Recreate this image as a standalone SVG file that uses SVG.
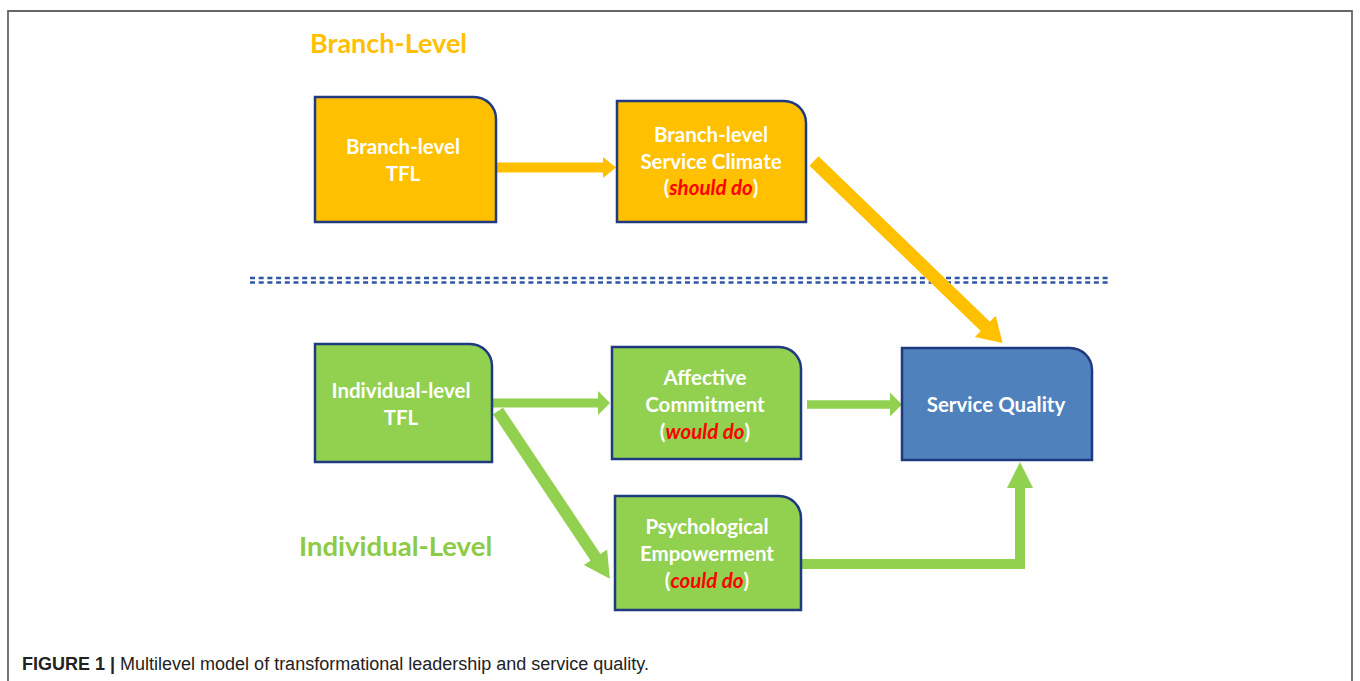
<svg xmlns="http://www.w3.org/2000/svg" width="1360" height="681" viewBox="0 0 1360 681">
<style>
.node{stroke:#1f3a80;stroke-width:2.5}
.y{fill:#FFC000}
.g{fill:#92D050}
.b{fill:#4F81BD}
.t{font-family:Lato,"Open Sans",sans-serif;font-weight:700;font-size:20.5px;fill:#fff;text-anchor:middle}
.r{fill:#FF0000;font-style:italic}
.cy{stroke:#FFC000;fill:none}
.cg{stroke:#92D050;fill:none}
</style>
<defs>
<marker id="ag" markerUnits="userSpaceOnUse" markerWidth="16" markerHeight="24" refX="1" refY="12" orient="auto" viewBox="0 0 16 24">
<path d="M0,0 L12,12 L0,24 Z" fill="#92D050"/>
</marker>
<marker id="ag2" markerUnits="userSpaceOnUse" markerWidth="30" markerHeight="30" refX="1" refY="15" orient="auto" viewBox="0 0 30 30">
<path d="M0,1 L26,15 L0,29 Z" fill="#92D050"/>
</marker>
<marker id="ay2" markerUnits="userSpaceOnUse" markerWidth="30" markerHeight="34" refX="1" refY="17" orient="auto" viewBox="0 0 30 34">
<path d="M0,2 L24,17 L0,32 Z" fill="#FFC000"/>
</marker>
</defs>
<rect width="1360" height="681" fill="#fff"/>
<path d="M8,690 V11 H1352 V690" fill="none" stroke="#666" stroke-width="1.8"/>
<text x="310" y="53" font-family="Lato,'Open Sans',sans-serif" font-weight="700" font-size="27" fill="#FFC000">Branch-Level</text>
<text x="299" y="556" font-family="Lato,'Open Sans',sans-serif" font-weight="700" font-size="27.5" fill="#8DCB45">Individual-Level</text>
<g id="separator" stroke="#2F55A4" stroke-width="2.4" stroke-dasharray="5 3.7">
<line x1="250" y1="278" x2="1110" y2="278"/>
<line x1="250" y1="282.5" x2="1110" y2="282.5"/>
</g>
<g id="connectors">
<line class="cy" x1="497" y1="167.5" x2="603" y2="167.5" stroke-width="10"/>
<path d="M603,157 L616,167.5 L603,178 Z" fill="#FFC000"/>
<line class="cy" x1="814" y1="161" x2="986" y2="327" stroke-width="13" marker-end="url(#ay2)"/>
<line class="cg" x1="492" y1="403" x2="599" y2="403" stroke-width="9" marker-end="url(#ag)"/>
<line class="cg" x1="807" y1="404.5" x2="891" y2="404.5" stroke-width="8.5" marker-end="url(#ag)"/>
<line class="cg" x1="498" y1="411" x2="596" y2="558" stroke-width="12" marker-end="url(#ag2)"/>
<path class="cg" d="M801,564 H1020 V487" stroke-width="10" stroke-linejoin="miter"/>
<path d="M1007,488 L1020,462 L1033,488 Z" fill="#92D050"/>
</g>
<g id="branch-tfl">
<path class="node y" d="M315,97 H474 A22,22 0 0 1 496,119 V222 H315 Z"/>
<text class="t" x="403" y="154">Branch-level</text>
<text class="t" x="403" y="181">TFL</text>
</g>
<g id="branch-climate">
<path class="node y" d="M617,101 H784 A22,22 0 0 1 806,123 V222 H617 Z"/>
<text class="t" x="711" y="142">Branch-level</text>
<text class="t" x="711" y="169">Service Climate</text>
<text class="t" x="711" y="195">(<tspan class="r">should do</tspan>)</text>
</g>
<g id="individual-tfl">
<path class="node g" d="M315,344 H470 A22,22 0 0 1 492,366 V462 H315 Z"/>
<text class="t" x="401" y="398">Individual-level</text>
<text class="t" x="401" y="425">TFL</text>
</g>
<g id="affective-commitment">
<path class="node g" d="M612,347 H779 A22,22 0 0 1 801,369 V459 H612 Z"/>
<text class="t" x="705" y="385">Affective</text>
<text class="t" x="705" y="412">Commitment</text>
<text class="t" x="705" y="439">(<tspan class="r">would do</tspan>)</text>
</g>
<g id="psychological-empowerment">
<path class="node g" d="M615,496 H779 A22,22 0 0 1 801,518 V610 H615 Z"/>
<text class="t" x="707" y="534">Psychological</text>
<text class="t" x="707" y="561">Empowerment</text>
<text class="t" x="707" y="588">(<tspan class="r">could do</tspan>)</text>
</g>
<g id="service-quality">
<path class="node b" d="M902,348 H1070 A22,22 0 0 1 1092,370 V460 H902 Z"/>
<text class="t" x="996" y="412">Service Quality</text>
</g>
<text x="22" y="670" font-family="'Liberation Sans',Arial,sans-serif" font-size="18" fill="#222"><tspan font-weight="700">FIGURE 1 |</tspan> Multilevel model of transformational leadership and service quality.</text>
</svg>
